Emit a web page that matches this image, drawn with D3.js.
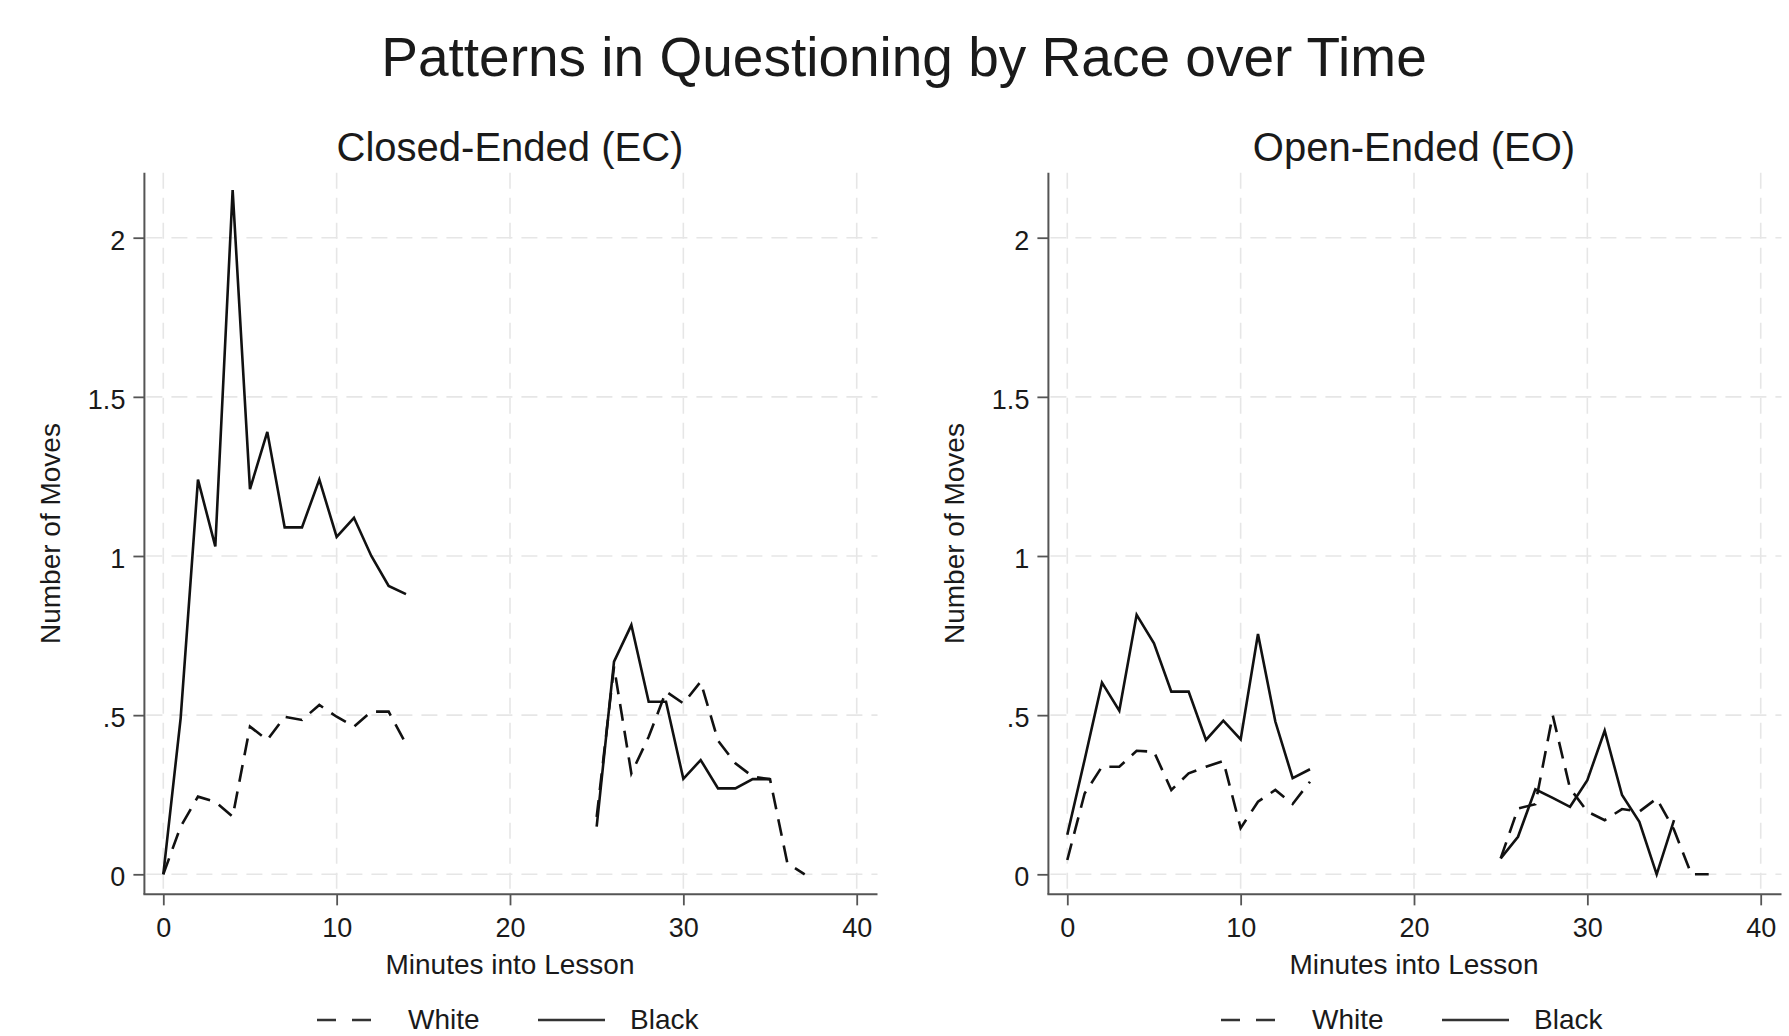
<!DOCTYPE html>
<html>
<head>
<meta charset="utf-8">
<script src="https://cdn.jsdelivr.net/npm/d3@7"></script>
<style>
  html, body { margin: 0; padding: 0; background: #ffffff; }
  svg { display: block; }
  text { font-family: "Liberation Sans", Arial, sans-serif; fill: #1a1a1a; }
</style>
</head>
<body>
<svg id="chart" width="1789" height="1036"></svg>
<script>
// ---- Data ----
const chartTitle = "Patterns in Questioning by Race over Time";
const panelTitles = ["Closed-Ended (EC)", "Open-Ended (EO)"];
const xAxisTitle = "Minutes into Lesson";
const yAxisTitle = "Number of Moves";
const legendLabels = ["White", "Black"];
const xTicks = [0, 10, 20, 30, 40];
const yTicks = [0, 0.5, 1, 1.5, 2];
const yTickLabels = ["0", ".5", "1", "1.5", "2"];

const minutes = [0,1,2,3,4,5,6,7,8,9,10,11,12,13,14,
                 15,16,17,18,19,20,21,22,23,24,
                 25,26,27,28,29,30,31,32,33,34,35,36,37];

const ecWhite = [0, 0.15, 0.244, 0.228, 0.181, 0.464, 0.422, 0.495, 0.485, 0.532, 0.495, 0.464, 0.511, 0.511, 0.41,
                 null,null,null,null,null,null,null,null,null,null,
                 0.18, 0.652, 0.317, 0.432, 0.574, 0.537, 0.605, 0.42, 0.349, 0.307, 0.299, 0.035, 0];
const ecBlack = [0, 0.49, 1.24, 1.03, 2.15, 1.21, 1.39, 1.09, 1.09, 1.24, 1.06, 1.12, 1.0, 0.906, 0.88,
                 null,null,null,null,null,null,null,null,null,null,
                 0.15, 0.668, 0.783, 0.542, 0.542, 0.30, 0.359, 0.27, 0.27, 0.299, 0.299, null, null];
const eoWhite = [0.045, 0.254, 0.338, 0.338, 0.388, 0.385, 0.265, 0.317, 0.338, 0.356, 0.145, 0.228, 0.265, 0.221, 0.291,
                 null,null,null,null,null,null,null,null,null,null,
                 0.05, 0.207, 0.22, 0.5, 0.27, 0.197, 0.17, 0.205, 0.197, 0.238, 0.14, 0, 0];
const eoBlack = [0.124, 0.36, 0.602, 0.514, 0.815, 0.726, 0.574, 0.574, 0.422, 0.483, 0.424, 0.755, 0.48, 0.302, 0.33,
                 null,null,null,null,null,null,null,null,null,null,
                 0.05, 0.118, 0.267, 0.24, 0.212, 0.296, 0.451, 0.249, 0.165, 0, 0.17, null, null];

const panelSeries = [
  { white: ecWhite, black: ecBlack },
  { white: eoWhite, black: eoBlack }
];

// ---- Layout ----
const svg = d3.select("#chart");
const panelOffset = 904;
const xRange0 = [163.3, 856.7];
const yScale = d3.scaleLinear().domain([0, 2]).range([874.3, 237.7]);
const xMinAxis = -1.09, xMaxAxis = 41.2, yMinAxis = -0.063, yMaxAxis = 2.204;

const gridColor = "#e6e6e6";
const axisColor = "#555555";
const lineColor = "#111111";

svg.append("text")
  .attr("x", 904).attr("y", 76)
  .attr("text-anchor", "middle")
  .attr("font-size", 55)
  .text(chartTitle);

panelSeries.forEach((series, p) => {
  const off = p * panelOffset;
  const x = d3.scaleLinear().domain([0, 40]).range([xRange0[0] + off, xRange0[1] + off]);
  const g = svg.append("g");

  const xL = x(xMinAxis), xR = x(xMaxAxis);
  const yT = yScale(yMaxAxis), yB = yScale(yMinAxis);

  // gridlines
  g.selectAll(".hgrid").data(yTicks).join("line")
    .attr("x1", xL + 2).attr("x2", xR)
    .attr("y1", d => yScale(d)).attr("y2", d => yScale(d))
    .attr("stroke", gridColor).attr("stroke-width", 1.6)
    .attr("stroke-dasharray", "16,9");
  g.selectAll(".vgrid").data(xTicks).join("line")
    .attr("x1", d => x(d)).attr("x2", d => x(d))
    .attr("y1", yT).attr("y2", yB - 2)
    .attr("stroke", gridColor).attr("stroke-width", 1.6)
    .attr("stroke-dasharray", "16,9");

  // axes lines
  g.append("line").attr("x1", xL).attr("x2", xL).attr("y1", yT).attr("y2", yB)
    .attr("stroke", axisColor).attr("stroke-width", 2);
  g.append("line").attr("x1", xL - 1).attr("x2", xR).attr("y1", yB).attr("y2", yB)
    .attr("stroke", axisColor).attr("stroke-width", 2);

  // y axis ticks via d3 axis
  const yAxis = d3.axisLeft(yScale).tickValues(yTicks)
    .tickFormat((d, i) => yTickLabels[i]).tickSize(11).tickPadding(8);
  const ya = g.append("g").attr("transform", `translate(${xL},0)`).call(yAxis);
  ya.select(".domain").remove();
  ya.selectAll(".tick line").attr("stroke", axisColor).attr("stroke-width", 1.8);
  ya.selectAll(".tick text").attr("font-size", 27).attr("fill", "#1a1a1a")
    .attr("font-family", "Liberation Sans, Arial, sans-serif").attr("dy", "0.42em");

  // x axis ticks
  const xAxis = d3.axisBottom(x).tickValues(xTicks).tickSize(11).tickPadding(12);
  const xa = g.append("g").attr("transform", `translate(0,${yB})`).call(xAxis);
  xa.select(".domain").remove();
  xa.selectAll(".tick line").attr("stroke", axisColor).attr("stroke-width", 1.8);
  xa.selectAll(".tick text").attr("font-size", 27).attr("fill", "#1a1a1a")
    .attr("font-family", "Liberation Sans, Arial, sans-serif");

  // titles
  const cx = x(20);
  g.append("text").attr("x", cx).attr("y", 161).attr("text-anchor", "middle")
    .attr("font-size", 40).text(panelTitles[p]);
  g.append("text").attr("x", cx).attr("y", 974).attr("text-anchor", "middle")
    .attr("font-size", 28).text(xAxisTitle);
  g.append("text")
    .attr("transform", `translate(${60 + off},${(yT + yB) / 2}) rotate(-90)`)
    .attr("text-anchor", "middle").attr("font-size", 28).text(yAxisTitle);

  // data lines
  const line = d3.line()
    .defined(d => d[1] !== null)
    .x(d => x(d[0])).y(d => yScale(d[1]));
  const whitePts = minutes.map((m, i) => [m, series.white[i]]);
  const blackPts = minutes.map((m, i) => [m, series.black[i]]);
  g.append("path").attr("d", line(whitePts)).attr("fill", "none")
    .attr("stroke", lineColor).attr("stroke-width", 2.6)
    .attr("stroke-dasharray", "17,10").attr("stroke-linejoin", "miter");
  g.append("path").attr("d", line(blackPts)).attr("fill", "none")
    .attr("stroke", lineColor).attr("stroke-width", 2.6).attr("stroke-linejoin", "miter");

  // legend
  const ly = 1020;
  const lt = 1029;
  g.append("line").attr("x1", cx - 193).attr("x2", cx - 138).attr("y1", ly).attr("y2", ly)
    .attr("stroke", "#333").attr("stroke-width", 2.5).attr("stroke-dasharray", "19,16");
  g.append("text").attr("x", cx - 102).attr("y", lt).attr("font-size", 28).text(legendLabels[0]);
  g.append("line").attr("x1", cx + 28).attr("x2", cx + 95).attr("y1", ly).attr("y2", ly)
    .attr("stroke", "#333").attr("stroke-width", 2.5);
  g.append("text").attr("x", cx + 120).attr("y", lt).attr("font-size", 28).text(legendLabels[1]);
});
</script>
</body>
</html>
